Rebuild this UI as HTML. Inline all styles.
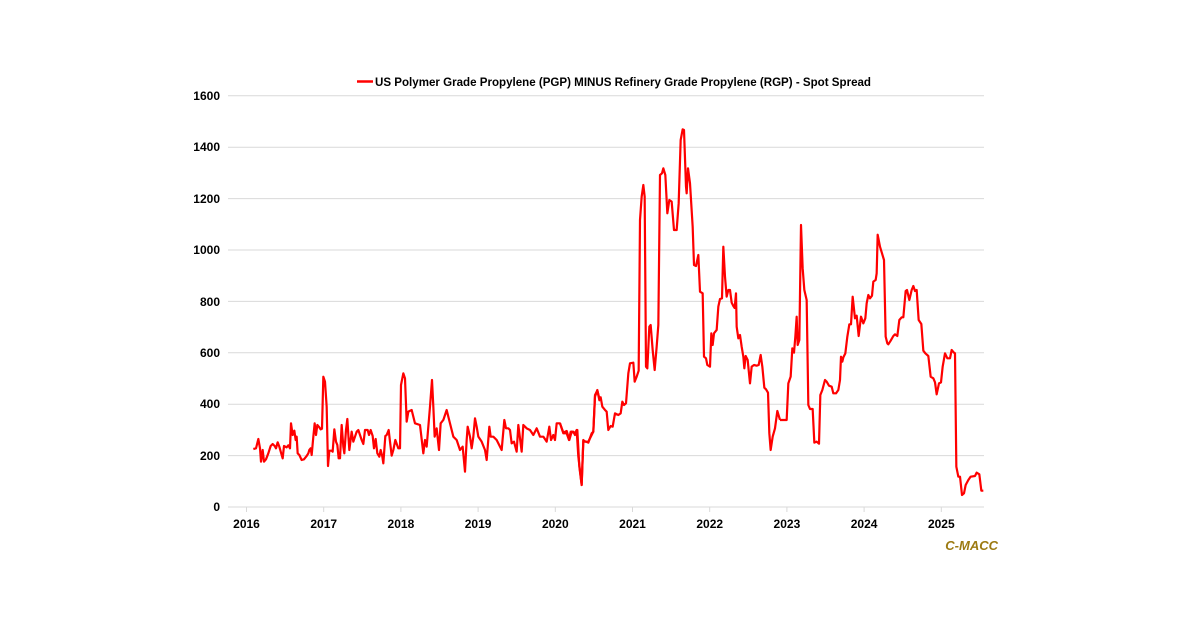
<!DOCTYPE html>
<html><head><meta charset="utf-8"><style>
html,body{margin:0;padding:0;background:#fff;}
svg{display:block;font-family:"Liberation Sans",sans-serif;}
</style></head><body>
<svg width="1200" height="627" viewBox="0 0 1200 627" xmlns="http://www.w3.org/2000/svg">
<rect width="1200" height="627" fill="#fff"/>
<g stroke="#d9d9d9" stroke-width="1">
<line x1="228" y1="95.8" x2="984" y2="95.8"/>
<line x1="228" y1="147.2" x2="984" y2="147.2"/>
<line x1="228" y1="198.6" x2="984" y2="198.6"/>
<line x1="228" y1="250" x2="984" y2="250"/>
<line x1="228" y1="301.4" x2="984" y2="301.4"/>
<line x1="228" y1="352.8" x2="984" y2="352.8"/>
<line x1="228" y1="404.2" x2="984" y2="404.2"/>
<line x1="228" y1="455.6" x2="984" y2="455.6"/>
<line x1="228" y1="507" x2="984" y2="507"/>
<line x1="246.5" y1="507" x2="246.5" y2="512"/>
<line x1="323.7" y1="507" x2="323.7" y2="512"/>
<line x1="400.9" y1="507" x2="400.9" y2="512"/>
<line x1="478.1" y1="507" x2="478.1" y2="512"/>
<line x1="555.3" y1="507" x2="555.3" y2="512"/>
<line x1="632.5" y1="507" x2="632.5" y2="512"/>
<line x1="709.7" y1="507" x2="709.7" y2="512"/>
<line x1="786.9" y1="507" x2="786.9" y2="512"/>
<line x1="864.1" y1="507" x2="864.1" y2="512"/>
<line x1="941.3" y1="507" x2="941.3" y2="512"/>
</g>
<g font-size="12" font-weight="bold" fill="#000" text-anchor="end">
<text x="220" y="100">1600</text>
<text x="220" y="151">1400</text>
<text x="220" y="203">1200</text>
<text x="220" y="254">1000</text>
<text x="220" y="306">800</text>
<text x="220" y="357">600</text>
<text x="220" y="408">400</text>
<text x="220" y="460">200</text>
<text x="220" y="511">0</text>
</g>
<g font-size="12" font-weight="bold" fill="#000" text-anchor="middle">
<text x="246.5" y="528">2016</text>
<text x="323.7" y="528">2017</text>
<text x="400.9" y="528">2018</text>
<text x="478.1" y="528">2019</text>
<text x="555.3" y="528">2020</text>
<text x="632.5" y="528">2021</text>
<text x="709.7" y="528">2022</text>
<text x="786.9" y="528">2023</text>
<text x="864.1" y="528">2024</text>
<text x="941.3" y="528">2025</text>
</g>
<line x1="357" y1="81.5" x2="373" y2="81.5" stroke="#ff0000" stroke-width="2.5"/>
<text x="375" y="86" font-size="12" font-weight="bold" textLength="496" lengthAdjust="spacingAndGlyphs">US Polymer Grade Propylene (PGP) MINUS Refinery Grade Propylene (RGP) - Spot Spread</text>
<text x="998" y="550" font-size="13" font-weight="bold" font-style="italic" fill="#9c7a12" text-anchor="end">C-MACC</text>
<g fill="none" stroke="#ff0000" stroke-width="2.2" stroke-linejoin="round">
<polyline transform="translate(240,340) scale(0.33333)" vector-effect="non-scaling-stroke" points="40,327 48,325 55,297 60,325 63,365 68,330 72,365 78,358 85,340 92,318 98,312 104,318 108,325 113,307 118,320 125,345 128,355 132,318 140,322 145,316 150,325 153,250 158,285 160,280 163,272 167,300 170,290 173,340 178,345 185,360 192,358 200,348 205,340 208,330 212,325 215,345 220,290 224,250 228,285 232,255 238,262 242,268 246,266 250,110 255,125 260,200 264,378 268,332 275,332 278,335 283,268 288,305 292,315 296,355 300,355 305,255 310,320 313,340 318,270 322,237 326,300 328,330 335,275 340,305 345,290 350,275 355,270 360,285 365,300 370,312 375,270 383,270 387,285 392,270 398,288 402,325 407,297 412,340 418,350 422,330 427,350 430,370 436,288 440,285 446,270 450,305 455,347 460,330 466,300 475,325 480,325 483,135 490,100 495,115 500,245 505,215 515,210 525,250 540,255 550,340 555,300 560,320 570,200 576,120 580,200 584,290 590,265 597,330 602,250 610,240 620,210 630,250 640,290 650,300 660,330 668,320 675,395 680,300 683,260 690,290 695,325 700,290 705,235 710,260 715,290 725,305 735,330 740,360 748,260 752,290 760,290 770,300 785,330 793,240 798,265 805,265 810,270 815,310 822,305 830,335 835,255 845,335 850,255 860,265 870,270 880,285 890,265 900,290 910,290 920,305 928,260 933,300 940,285 945,300 950,250 960,250 970,280 980,280 987,300 992,275 1000,275 1005,285 1012,270 1018,380 1025,435 1030,300 1035,305 1045,305 1055,285 1060,275 1065,170 1072,150 1078,180 1080,183"/>
<polyline transform="translate(560,120) scale(0.33333)" vector-effect="non-scaling-stroke" points="0,910 10,938 20,933 28,960 35,935 45,940 50,930 55,1010 65,1095 70,962 85,968 95,940 100,935 105,825 112,812 118,835 122,832 127,860 135,870 140,875 145,930 152,918 158,920 165,880 175,885 182,880 187,845 192,855 198,850 205,760 210,730 220,728 224,785 230,770 236,752 240,300 245,230 250,195 254,230 258,740 262,745 268,620 272,615 278,690 284,750 290,680 295,615 300,165 306,160 310,145 316,165 322,280 328,240 335,245 342,330 350,330 356,250 362,60 368,28 372,30 378,200 380,220 384,145 390,190 398,320 402,435 408,438 415,405 420,515 428,520 432,710 438,715 442,735 450,740 454,640 458,675 462,640 470,630 475,560 480,537 486,535 490,380 495,470 500,530 505,510 510,510 515,548 520,558 524,564 528,520 530,620 535,655 540,645 545,680 550,710 553,745 557,708 563,720 570,790 575,740 582,735 590,737 596,735 602,705 607,740 613,803 618,808 624,818 628,940 632,990 638,950 645,925 652,873 660,900"/>
<polyline transform="translate(760,220) scale(0.33333)" vector-effect="non-scaling-stroke" points="60,600 70,600 80,600 85,490 92,470 97,385 102,398 106,350 110,290 113,375 118,360 123,15 128,145 133,210 140,240 145,555 150,567 158,567 163,668 170,665 177,671 181,525 187,510 195,480 200,485 207,497 215,500 220,520 228,520 235,510 240,480 243,410 247,425 250,412 256,400 262,350 268,313 273,313 278,230 285,295 290,287 296,348 303,290 310,310 316,295 320,250 325,225 330,235 336,227 340,185 347,180 350,160 353,44 360,80 366,100 372,120 377,350 382,370 385,373 392,362 400,348 405,343 412,348 418,300 425,292 430,292 437,213 441,210 448,240 455,210 460,198 465,213 470,210 476,300 484,312 490,392 496,400 505,408 512,470 520,475 525,487 530,523 537,490 543,487 548,440 555,400 562,415 570,415 575,390 582,398 585,400 589,740 595,770 600,770 606,825 612,820 617,795 625,780 632,770 645,768 650,758 658,763 664,812 670,812"/>
</g>
</svg>
</body></html>
